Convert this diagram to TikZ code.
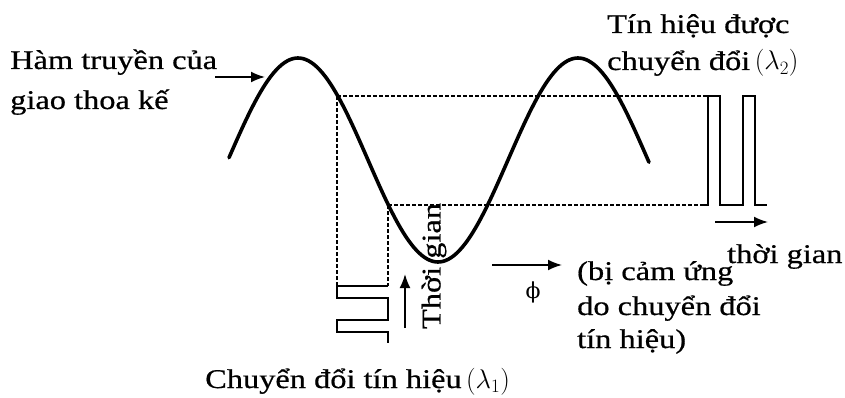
\RequirePackage{fix-cm}
\documentclass[tikz,border=0pt]{standalone}
\usepackage{fontspec}
\setmainfont[FakeStretch=1.2,FakeBold=0.6]{Liberation Serif}
\newfontfamily\phifont{DejaVu Serif}
\usetikzlibrary{arrows.meta}
\begin{document}
\begin{tikzpicture}[x=1pt,y=-1pt,
  lbl/.style={font=\fontsize{27}{36}\selectfont, inner sep=0pt, anchor=base west},
  curve/.style={line width=3.6pt, line cap=round},
  guide/.style={line width=1.3pt, dash pattern=on 4pt off 2pt},
  wave/.style={line width=1.8pt},
  arr/.style={line width=1.8pt, -{Latex[length=14pt,width=11pt]}}]
\useasboundingbox[fill=white] (0,0) rectangle (845,398);
% sine transfer function
\draw[curve] plot[domain=229:649, samples=160, smooth] (\x, {160-102*cos((\x-298)/280*360)});
% key points
\coordinate (uA) at (337,96);
\coordinate (uB) at (708,96);
\coordinate (lA) at (388,205);
\coordinate (lB) at (700,205);
\coordinate (vA) at (337,286);
\coordinate (vB) at (388,286);
% dashed guides
\draw[guide] (uA) -- (uB);
\draw[guide] (uA) -- (vA);
\draw[guide] (lA) -- (lB);
\draw[guide] (lA) -- (vB);
% output signal (lambda 2)
\draw[wave] (lB) -- (708,205) -- (uB) -- (720,96) -- (720,205) -- (743,205) -- (743,96) -- (755,96) -- (755,205) -- (767,205);
% input signal (lambda 1)
\draw[wave] (vB) -- (vA) -- (337,298) -- (388,298) -- (388,320) -- (337,320) -- (337,332) -- (388,332) -- (388,343);
% arrows
\coordinate (a1s) at (215,77); \coordinate (a1e) at (265,77);
\draw[arr] (a1s) -- (a1e);
\coordinate (a2s) at (405,328); \coordinate (a2e) at (405,274);
\draw[arr] (a2s) -- (a2e);
\coordinate (a3s) at (492,265); \coordinate (a3e) at (562,265);
\draw[arr] (a3s) -- (a3e);
\coordinate (a4s) at (715,222); \coordinate (a4e) at (768,222);
\draw[arr] (a4s) -- (a4e);
% labels
\node[lbl] (t1) at (10,69) {Hàm truyền của};
\node[lbl] (t2) at (10,109) {giao thoa kế};
\node[lbl] (t3) at (607,33) {Tín hiệu được};
\node[lbl] (t4) at (607,70) {chuyển đổi\,$(\lambda_2)$};
\node[lbl] (t5) at (727,263) {thời gian};
\node[lbl] (t6) at (577,280) {(bị cảm ứng};
\node[lbl] (t7) at (577,315) {do chuyển đổi};
\node[lbl] (t8) at (577,348) {tín hiệu)};
\node[lbl] (t9) at (205,388) {Chuyển đổi tín hiệu\,$(\lambda_1)$};
\node[font=\phifont\fontsize{22}{26}\selectfont, inner sep=0pt] (phi) at (533,292) {ϕ};
\node[font=\fontsize{27}{36}\selectfont, inner sep=0pt, rotate=90] (tg) at (434,266) {Thời gian};
\end{tikzpicture}
\end{document}
